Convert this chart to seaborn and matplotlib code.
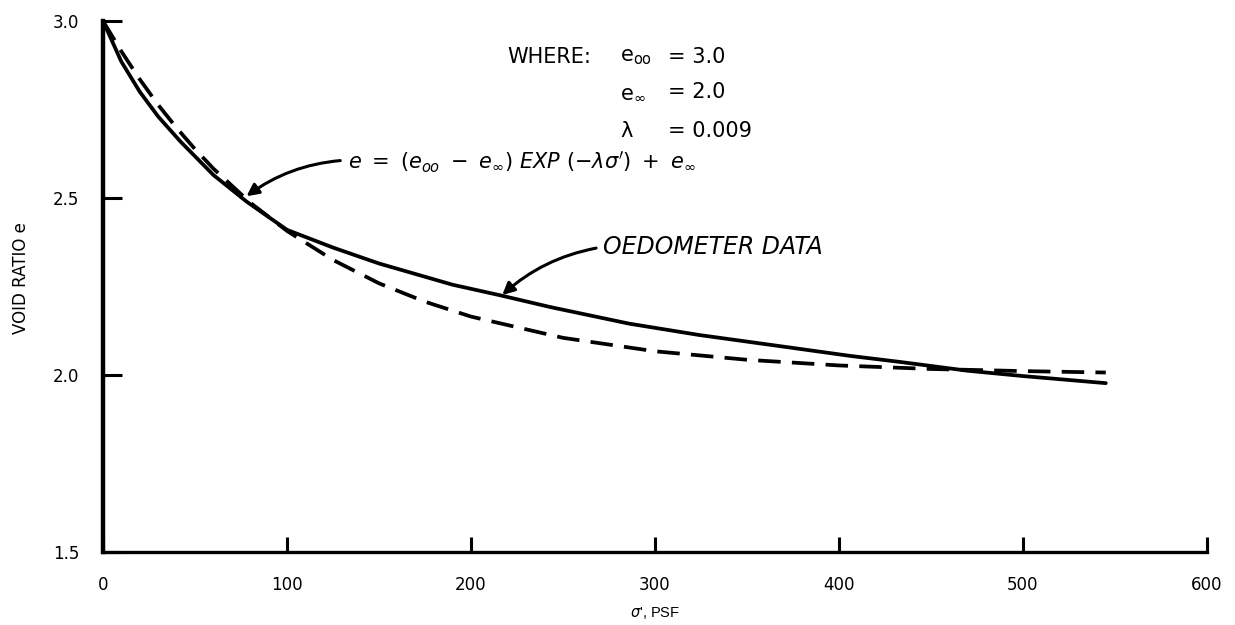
import matplotlib
matplotlib.use("Agg")
import matplotlib.pyplot as plt
import seaborn as sns
import pandas as pd

# ---- data ----
sigma_model = [0, 10, 20, 30, 40, 50, 60, 80, 100, 125, 150, 175, 200, 250, 300, 350, 400, 450, 500, 545]
e_model = [3.000, 2.914, 2.835, 2.763, 2.698, 2.638, 2.583, 2.487, 2.407, 2.325, 2.259, 2.207, 2.165,
           2.105, 2.067, 2.043, 2.027, 2.017, 2.011, 2.007]

sigma_oedo = [0, 10, 20, 30, 42, 60, 78, 100, 125, 150, 190, 216, 243, 286, 324, 370, 406, 433, 470, 500, 545]
e_oedo = [3.000, 2.885, 2.800, 2.730, 2.660, 2.565, 2.490, 2.410, 2.360, 2.315, 2.255, 2.225, 2.192,
          2.145, 2.113, 2.080, 2.054, 2.037, 2.012, 1.997, 1.977]

x_ticks = [0, 100, 200, 300, 400, 500, 600]
x_tick_labels = ["0", "100", "200", "300", "400", "500", "600"]
y_ticks = [1.5, 2.0, 2.5, 3.0]
y_tick_labels = ["1.5", "2.0", "2.5", "3.0"]

sns.set_style("ticks")
plt.rcParams["font.family"] = ["DejaVu Sans"]
plt.rcParams["mathtext.fontset"] = "dejavusans"
for k in ["text.color", "axes.edgecolor", "xtick.color", "ytick.color", "axes.labelcolor"]:
    plt.rcParams[k] = "black"

df = pd.concat([
    pd.DataFrame({"sigma": sigma_oedo, "e": e_oedo, "curve": "oedometer"}),
    pd.DataFrame({"sigma": sigma_model, "e": e_model, "curve": "model"}),
], ignore_index=True)

fig = plt.figure(figsize=(12.35, 6.25), dpi=100)
ax = fig.add_axes([103 / 1235, 1 - 552 / 625, (1207 - 103) / 1235, (552 - 21) / 625])

sns.lineplot(data=df, x="sigma", y="e", style="curve", sort=False,
             dashes={"oedometer": "", "model": (6, 3)}, color="black",
             linewidth=2.7, legend=False, ax=ax, estimator=None)

ax.set_xlim(0, 600)
ax.set_ylim(1.5, 3.0)
ax.set_xticks(x_ticks)
ax.set_xticklabels(x_tick_labels)
ax.set_yticks(y_ticks)
ax.set_yticklabels(y_tick_labels)
ax.tick_params(axis="x", direction="in", length=11, width=2.2, pad=17, labelsize=12)
ax.tick_params(axis="y", direction="in", length=14, width=2.2, pad=17, labelsize=12)
for s in ["top", "right"]:
    ax.spines[s].set_visible(False)
ax.spines["left"].set_linewidth(3.2)
ax.spines["bottom"].set_linewidth(2.4)

ax.set_xlabel(r"$\sigma$', PSF", fontsize=10.5, family="Liberation Sans", labelpad=8)
ax.set_ylabel("VOID RATIO e", fontsize=12, labelpad=0)
ax.yaxis.set_label_coords(-73 / 1104, 0.515)

# annotations
fs = 15
ax.text(219.6, 2.898, "WHERE:", fontsize=fs, va="center", ha="left")
ax.text(281, 2.898, r"e$_{\mathrm{oo}}$", fontsize=fs, va="center", ha="left")
ax.text(307, 2.898, "= 3.0", fontsize=fs, va="center", ha="left")
ax.text(281, 2.799, r"e$_{\infty}$", fontsize=fs, va="center", ha="left")
ax.text(307, 2.799, "= 2.0", fontsize=fs, va="center", ha="left")
ax.text(281, 2.689, "λ", fontsize=fs, va="center", ha="left")
ax.text(307, 2.689, "= 0.009", fontsize=fs, va="center", ha="left")

ax.annotate(r"$e\ =\ (e_{oo}\ -\ e_{\infty})\ EXP\ (-\lambda\sigma')\ +\ e_{\infty}$",
            xy=(78, 2.505), xytext=(133, 2.60), fontsize=fs, va="center", ha="left",
            arrowprops=dict(arrowstyle="-|>", color="black", lw=2.2, mutation_scale=18,
                            connectionstyle="arc3,rad=0.15", shrinkA=3, shrinkB=0,
                            relpos=(0, 0.6)))
ax.annotate("OEDOMETER DATA", xy=(217, 2.226), xytext=(272, 2.362), fontsize=17,
            style="italic", va="center", ha="left",
            arrowprops=dict(arrowstyle="-|>", color="black", lw=2.2, mutation_scale=18,
                            connectionstyle="arc3,rad=0.15", shrinkA=3, shrinkB=0,
                            relpos=(0, 0.5)))

fig.savefig("out.png", dpi=100)
